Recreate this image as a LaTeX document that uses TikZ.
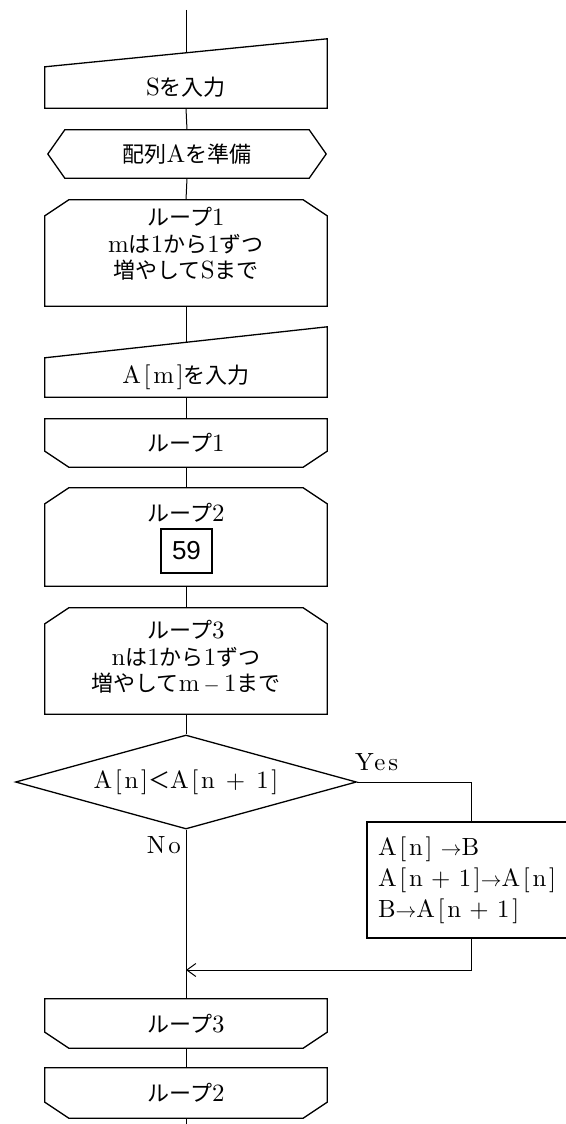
\documentclass[tikz,border=0pt]{standalone}
\usepackage{fontspec}
\setmainfont{lmroman10-regular.otf}[LetterSpace=11, Scale=1.13]
\newfontfamily\jpfont{Noto Sans CJK JP}
\newfontfamily\digitfont{Liberation Sans}
\usetikzlibrary{shapes.geometric,arrows.meta}
\newcommand\J[1]{{\jpfont #1}}
\newcommand\LoopTop[1]{\draw[outl] (#1.south west) -- ([yshift=-16pt]#1.north west) -- ([xshift=24pt]#1.north west) -- ([xshift=-24pt]#1.north east) -- ([yshift=-16pt]#1.north east) -- (#1.south east) -- cycle;}
\newcommand\LoopBot[1]{\draw[outl] (#1.north west) -- ([yshift=16pt]#1.south west) -- ([xshift=24pt]#1.south west) -- ([xshift=-24pt]#1.south east) -- ([yshift=16pt]#1.south east) -- (#1.north east) -- cycle;}
\newcommand\ManIn[2]{\draw[outl] (#1.north west) -- ([yshift=#2]#1.north east) -- (#1.south east) -- (#1.south west) -- cycle;}
\tikzset{
  every node/.style={font=\fontsize{22}{26.5}\selectfont},
  shp/.style={minimum width=282pt, inner sep=0pt, align=center},
  outl/.style={line width=1.3pt, line join=miter},
  conn/.style={line width=1pt},
  txt/.style={align=center, inner sep=0pt},
}
\begin{document}
\begin{tikzpicture}[x=1pt,y=-1pt]
\useasboundingbox (0,0) rectangle (565,1124);
% input S
\node[shp, minimum height=41pt] (in1) at (186,87.5) {S\J{を入力}};
\ManIn{in1}{28pt}
% prepare array
\node[shp, minimum width=278pt, minimum height=48pt] (prep) at (187,154) {\J{配列}A\J{を準備}};
\draw[outl] (prep.west) -- ([xshift=17pt]prep.north west) -- ([xshift=-17pt]prep.north east) -- (prep.east) -- ([xshift=-17pt]prep.south east) -- ([xshift=17pt]prep.south west) -- cycle;
% loop 1 start
\node[shp, minimum height=106pt] (l1) at (186,253) {};
\LoopTop{l1}
\node[txt] (l1t) at (186,244) {\J{ループ}1\\m\J{は}1\J{から}1\J{ずつ}\\\J{増やして}S\J{まで}};
% input A[m]
\node[shp, minimum height=39pt] (in2) at (186,377.5) {A[m]\J{を入力}};
\ManIn{in2}{31pt}
% loop 1 end
\node[shp, minimum height=48pt] (l1e) at (186,443) {\J{ループ}1};
\LoopBot{l1e}
% loop 2 start
\node[shp, minimum height=98pt] (l2) at (186,537) {};
\LoopTop{l2}
\node[txt] (l2t) at (186,513) {\J{ループ}2};
\node[draw, line width=1.3pt, minimum width=51pt, minimum height=44pt, inner sep=0pt, font=\digitfont\fontsize{26}{28}\selectfont] (q59) at (186.5,551) {59};
% loop 3 start
\node[shp, minimum height=106pt] (l3) at (186,661) {};
\LoopTop{l3}
\node[txt] (l3t) at (186,657) {\J{ループ}3\\n\J{は}1\J{から}1\J{ずつ}\\\J{増やして}m\,$-$\,1\J{まで}};
% decision
\node[diamond, draw, line width=1.3pt, minimum width=341pt, minimum height=94pt, inner sep=0pt, aspect=3.6] (d) at (186,782) {A[n]\J{＜}A[n~+~1]};
% swap box
\node[draw, line width=1.3pt, minimum width=200pt, minimum height=116pt, text width=178pt, inner xsep=11pt, inner ysep=0pt, align=left, font=\fontsize{22}{31}\selectfont] (proc) at (467,880) {A[n]~$\rightarrow$B\\A[n~+~1]$\rightarrow$A[n]\\B$\rightarrow$A[n~+~1]};
% labels
\node[anchor=base west, inner sep=0pt] (yes) at (355,770) {Yes};
\node[anchor=base east, inner sep=0pt] (no) at (181,853) {No};
% loop 3 end, loop 2 end
\node[shp, minimum height=49pt] (l3e) at (186,1023.5) {\J{ループ}3};
\LoopBot{l3e}
\node[shp, minimum height=50pt] (l2e) at (186,1093) {\J{ループ}2};
\LoopBot{l2e}
% connectors
\coordinate (topend) at (186,10);
\coordinate (in1top) at (186,53);
\coordinate (in2top) at (186,342.5);
\coordinate (ybr) at (471,782);
\coordinate (ret) at (471,970);
\coordinate (bottomend) at (186,1124);
\draw[conn] (topend) -- (in1top);
\draw[conn] (in1.south) -- (prep.north);
\draw[conn] (prep.south) -- (l1.north);
\draw[conn] (l1.south) -- (in2top);
\draw[conn] (in2.south) -- (l1e.north);
\draw[conn] (l1e.south) -- (l2.north);
\draw[conn] (l2.south) -- (l3.north);
\draw[conn] (l3.south) -- (d.north);
\draw[conn] (d.south) -- (l3e.north);
\draw[conn] (l3e.south) -- (l2e.north);
\draw[conn] (l2e.south) -- (bottomend);
\draw[conn] (d.east) -- (ybr) -- (ybr |- proc.north);
\draw[conn, -{Straight Barb[length=9pt,width=13pt]}] (ybr |- proc.south) -- (ret) -- (d.south |- ret);
\end{tikzpicture}
\end{document}
